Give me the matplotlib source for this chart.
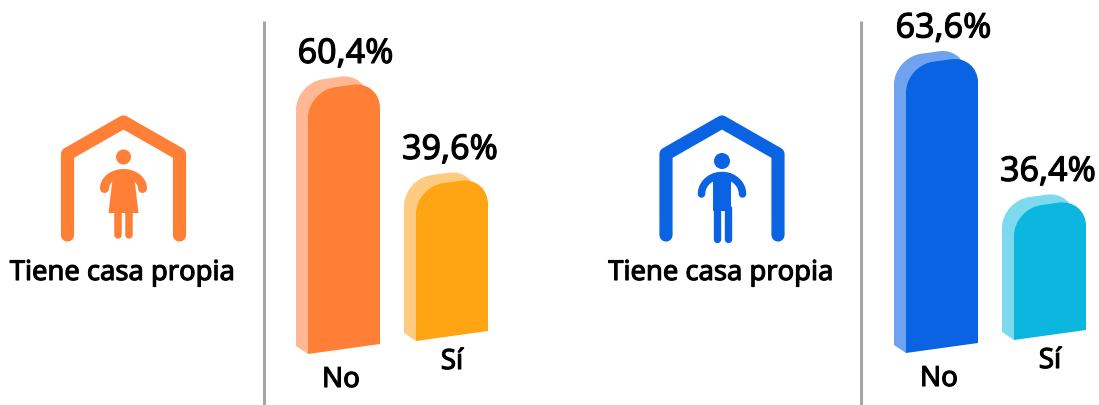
import numpy as np
import matplotlib
matplotlib.use("Agg")
import matplotlib.pyplot as plt
import matplotlib.patheffects as pe
from matplotlib.path import Path
from matplotlib.patches import PathPatch, Circle, Polygon

W, H = 1099, 405

categories = ["No", "Sí"]
mujeres = [60.4, 39.6]
hombres = [63.6, 36.4]
labels_m = ["60,4%", "39,6%"]
labels_h = ["63,6%", "36,4%"]
colors_m = ["#FF7F37", "#FFA412"]
side_m = ["#FFB794", "#FFCB80"]
colors_h = ["#0A63E3", "#0BB7DF"]
side_h = ["#6FA3F0", "#7DDAEE"]
icon_title = "Tiene casa propia"

plt.rcParams["font.family"] = ["Noto Sans", "DejaVu Sans"]

fig = plt.figure(figsize=(W / 100, H / 100), dpi=100)

# full figure axes in pixels, for the icons and the separators
bg = fig.add_axes([0, 0, 1, 1])
bg.set_xlim(0, W)
bg.set_ylim(H, 0)
bg.axis("off")

PX_PER_CAT = 108
BAR_W = 72
TILT = 10 / 72
semibold = [pe.withStroke(linewidth=0.8, foreground="black")]


def bar_path(x0, x1, y0, y1, rx, ry, tilt):
    # rounded top bar, sheared so that the base and the top go up to the right
    c = 0.45
    pts = [(x0, y0), (x0, y1 - ry), (x0, y1 - ry * c), (x0 + rx * c, y1), (x0 + rx, y1),
           (x1 - rx, y1), (x1 - rx * c, y1), (x1, y1 - ry * c), (x1, y1 - ry), (x1, y0), (x0, y0)]
    codes = [Path.MOVETO, Path.LINETO, Path.CURVE4, Path.CURVE4, Path.CURVE4,
             Path.LINETO, Path.CURVE4, Path.CURVE4, Path.CURVE4, Path.LINETO, Path.CLOSEPOLY]
    pts = [(x, y + tilt * (x - x0)) for x, y in pts]
    return Path(pts, codes)


def draw_bars(left_px, base_px, values, texts, colors, sides, px_per_unit, v0):
    # axes spans two categories, y is in percent
    width = 2 * PX_PER_CAT
    ax = fig.add_axes([left_px / W, 1 - base_px / H, width / W, base_px / H])
    ax.set_xlim(-0.5, 1.5)
    ax.set_ylim(v0, v0 + base_px / px_per_unit)
    ax.axis("off")
    ax.patch.set_alpha(0)

    bw = BAR_W / PX_PER_CAT
    rx = 27 / PX_PER_CAT
    ry = 27 / px_per_unit
    tilt = TILT * PX_PER_CAT / px_per_unit
    dx = 12 / PX_PER_CAT
    dy = 8 / px_per_unit
    step = 13 / px_per_unit  # each bar sits higher than the one before it

    for i, v in enumerate(values):
        x0 = i - bw / 2
        x1 = i + bw / 2
        y0 = v0 + step * i
        y1 = v + step * i
        back = bar_path(x0 - dx, x1 - dx, y0 + dy, y1 + dy, rx, ry, tilt)
        ax.add_patch(PathPatch(back, fc=sides[i], ec="none", clip_on=False))
        ax.add_patch(Polygon([(x0 - dx, y0 + dy), (x0, y0), (x0, y0 + 30 / px_per_unit),
                              (x0 - dx, y0 + dy + 30 / px_per_unit)],
                             fc=sides[i], ec="none", clip_on=False))
        ax.add_patch(PathPatch(bar_path(x0, x1, y0, y1, rx, ry, tilt), fc=colors[i], ec="none", clip_on=False))
        ax.annotate(texts[i], (i, y1), xytext=(1.5 - 3.5 * i, 20), textcoords="offset pixels", ha="center",
                    va="bottom", fontsize=24.5, color="#000000", annotation_clip=False, path_effects=semibold)
        ax.annotate(categories[i], (i, y0), xytext=(-3 + 3 * i, -33 + 5 * i), textcoords="offset pixels",
                    ha="center", va="baseline", fontsize=20, color="#000000", annotation_clip=False,
                    path_effects=semibold)
    return ax


def draw_house(cx, color):
    xs = [cx - 56, cx - 56, cx, cx + 56, cx + 56]
    ys = [235, 154, 122, 154, 235]
    bg.plot(xs, ys, color=color, lw=9.5, solid_capstyle="round", solid_joinstyle="round")
    bg.text(cx - 1, 273, icon_title, ha="center", va="center", fontsize=19.7, color="#000000",
            path_effects=semibold)


def draw_woman(cx, color):
    bg.add_patch(Circle((cx, 157), 7.5, fc=color, ec="none"))
    t = np.linspace(np.pi, 0, 30)
    bg.plot(cx + 19 * np.cos(t), 188.5 - 15 * np.sin(t), color=color, lw=6.5, solid_capstyle="round")
    bg.add_patch(Polygon([(cx - 10, 171), (cx + 10, 171), (cx + 15, 213), (cx - 15, 213)], fc=color, ec="none"))
    for off in (-5.5, 5.5):
        bg.plot([cx + off, cx + off], [212, 234.5], color=color, lw=5.4, solid_capstyle="round")


def draw_man(cx, color):
    bg.add_patch(Circle((cx, 161), 8, fc=color, ec="none"))
    t = np.linspace(np.pi, 0, 30)
    bg.plot(cx + 20.5 * np.cos(t), 194 - 18.5 * np.sin(t), color=color, lw=5.4, solid_capstyle="round")
    bg.add_patch(Polygon([(cx - 9, 173), (cx + 9, 173), (cx + 9, 211), (cx - 9, 211)], fc=color, ec="none"))
    for off in (-5.5, 5.5):
        bg.plot([cx + off, cx + off], [208, 239], color=color, lw=5.3, solid_capstyle="round")


for x in (263.5, 860.5):
    bg.plot([x, x], [21, H], color="#A6A6A6", lw=2.2, solid_capstyle="butt")

draw_house(123.5, "#FF7F37")
draw_woman(123.5, "#FF7F37")
draw_house(722, "#0A63E3")
draw_man(722, "#0A63E3")

draw_bars(290, 354, mujeres, labels_m, colors_m, side_m, 5.24, 10.2)
draw_bars(888, 353, hombres, labels_h, colors_h, side_h, 5.75, 13.6)

fig.savefig("out.png", dpi=100)
